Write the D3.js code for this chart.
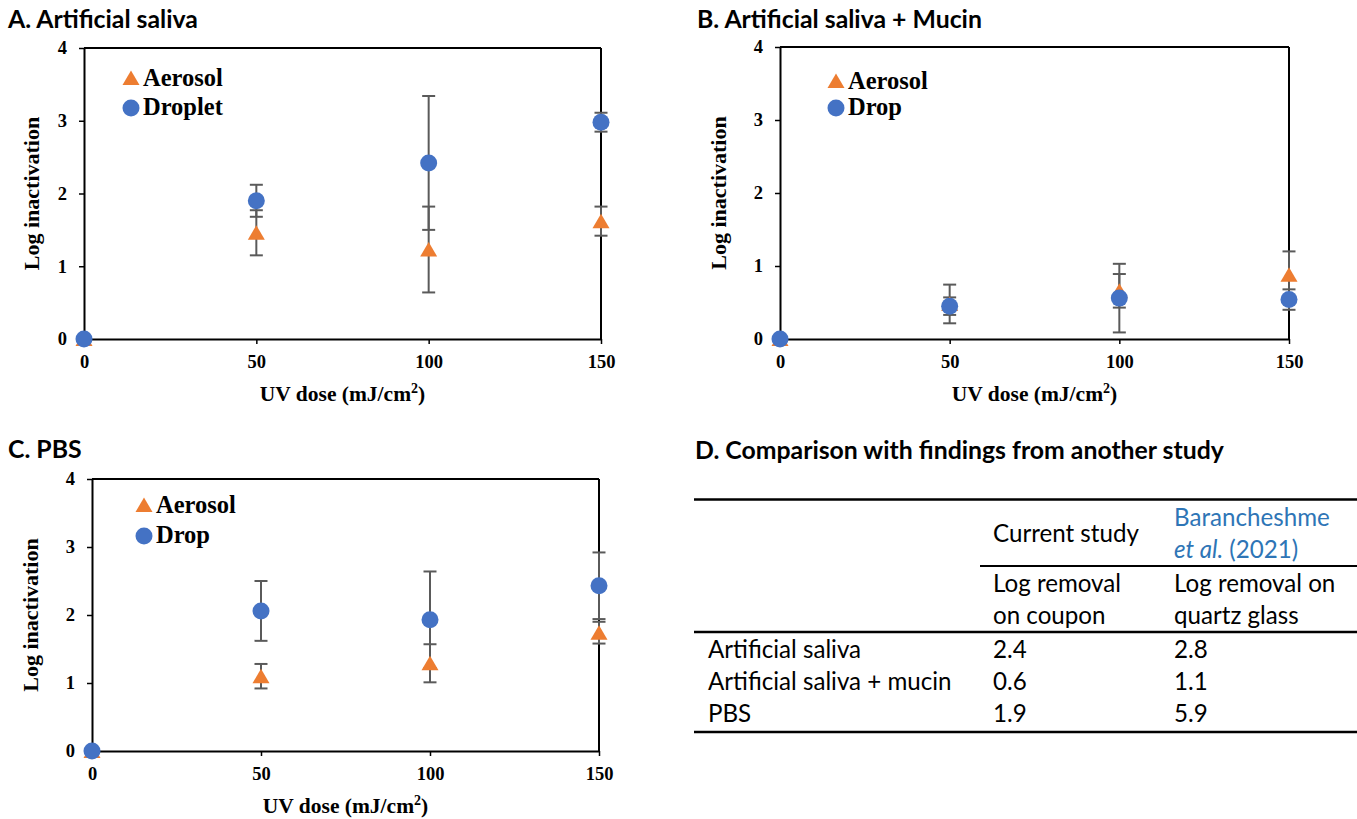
<!DOCTYPE html>
<html>
<head>
<meta charset="utf-8">
<script src="https://cdn.jsdelivr.net/npm/d3@7"></script>
<style>
  html, body { margin: 0; padding: 0; background: #fff; }
  svg { display: block; }
</style>
</head>
<body>
<script>
// ---------------- DATA ----------------
const doses = [0, 50, 100, 150];
const xTicks = [0, 50, 100, 150];
const yTicks = [0, 1, 2, 3, 4];

// Panel A: Artificial saliva
const salivaAerosol    = [0, 1.46, 1.23, 1.62];
const salivaAerosolErr = [0, 0.31, 0.59, 0.20];
const salivaDroplet    = [0, 1.90, 2.42, 2.98];
const salivaDropletErr = [0, 0.22, 0.92, 0.13];

// Panel B: Artificial saliva + Mucin
const mucinAerosol    = [0, 0.48, 0.66, 0.88];
const mucinAerosolErr = [0, 0.265, 0.23, 0.32];
const mucinDrop       = [0, 0.45, 0.56, 0.54];
const mucinDropErr    = [0, 0.12, 0.47, 0.14];

// Panel C: PBS
const pbsAerosol    = [0, 1.10, 1.29, 1.74];
const pbsAerosolErr = [0, 0.18, 0.28, 0.16];
const pbsDrop       = [0, 2.06, 1.93, 2.43];
const pbsDropErr    = [0, 0.44, 0.71, 0.49];

// Panel D: table
const tableRows     = ["Artificial saliva", "Artificial saliva + mucin", "PBS"];
const currentStudy  = [2.4, 0.6, 1.9];
const barancheshme  = [2.8, 1.1, 5.9];

// ---------------- STYLE ----------------
const W = 1357, H = 819;
const ORANGE = "#ED7D31", BLUE = "#4472C4", ERR = "#5a5a5a", CITE = "#2E75B6";
const SERIF = "'Liberation Serif', 'Times New Roman', serif";
const SANS = "Lato, 'Open Sans', sans-serif";

const svg = d3.select("body").append("svg").attr("width", W).attr("height", H);

function fitSize(family, weight, style, sample, target) {
  const t = svg.append("text").attr("font-family", family).attr("font-weight", weight)
    .attr("font-style", style).attr("font-size", 100).text(sample);
  const w = t.node().getComputedTextLength();
  t.remove();
  return 100 * target / w;
}
const titleSize = fitSize(SANS, "bold", "normal", "A. Artificial saliva", 190);
const tableSize = fitSize(SANS, "normal", "normal", "Current study", 146);

// ---------------- PANELS ----------------
const panels = [
  { title: "A. Artificial saliva", titleX: 8, titleY: 28,
    left: 84, right: 601, top: 48, bottom: 339, ylabX: 31,
    legX: 131, legTri: 78, legCirc: 108, dropName: "Droplet",
    aer: salivaAerosol, aerErr: salivaAerosolErr, drop: salivaDroplet, dropErr: salivaDropletErr },
  { title: "B. Artificial saliva + Mucin", titleX: 697, titleY: 28,
    left: 780, right: 1289, top: 47, bottom: 339, ylabX: 718,
    legX: 836, legTri: 81, legCirc: 108, dropName: "Drop",
    aer: mucinAerosol, aerErr: mucinAerosolErr, drop: mucinDrop, dropErr: mucinDropErr },
  { title: "C. PBS", titleX: 8, titleY: 458,
    left: 92, right: 599, top: 479, bottom: 751, ylabX: 30,
    legX: 144, legTri: 505, legCirc: 536, dropName: "Drop",
    aer: pbsAerosol, aerErr: pbsAerosolErr, drop: pbsDrop, dropErr: pbsDropErr }
];

function triPath(cx, cy) {
  return `M${cx},${cy - 7.5}L${cx + 8.5},${cy + 7}L${cx - 8.5},${cy + 7}Z`;
}

panels.forEach(p => {
  const g = svg.append("g");
  const x = d3.scaleLinear().domain([0, 150]).range([p.left, p.right]);
  const y = d3.scaleLinear().domain([0, 4]).range([p.bottom, p.top]);

  g.append("text").attr("x", p.titleX).attr("y", p.titleY)
    .attr("font-family", SANS).attr("font-weight", "bold").attr("font-size", titleSize)
    .attr("fill", "#000").text(p.title);

  // frame (top & right)
  g.append("line").attr("x1", x(0)).attr("x2", x(150)).attr("y1", y(4)).attr("y2", y(4))
    .attr("stroke", "#000").attr("stroke-width", 2);
  g.append("line").attr("x1", x(150)).attr("x2", x(150)).attr("y1", y(4)).attr("y2", y(0))
    .attr("stroke", "#000").attr("stroke-width", 2);

  const fmt = d3.format("d");
  const xa = g.append("g").attr("transform", `translate(0,${p.bottom})`)
    .call(d3.axisBottom(x).tickValues(xTicks).tickFormat(fmt).tickSize(5).tickSizeOuter(0).tickPadding(11));
  const ya = g.append("g").attr("transform", `translate(${p.left},0)`)
    .call(d3.axisLeft(y).tickValues(yTicks).tickFormat(fmt).tickSize(5).tickSizeOuter(0).tickPadding(12));
  [xa, ya].forEach(a => {
    a.select(".domain").attr("stroke", "#000").attr("stroke-width", 2);
    a.selectAll(".tick line").attr("stroke", "#000").attr("stroke-width", 1.5);
    a.selectAll(".tick text").attr("font-family", SERIF).attr("font-weight", "bold")
      .attr("font-size", 18.5).attr("fill", "#000");
  });

  // axis titles
  g.append("text")
    .attr("transform", `translate(${p.ylabX},${(p.top + p.bottom) / 2}) rotate(-90)`)
    .attr("text-anchor", "middle").attr("dominant-baseline", "central")
    .attr("font-family", SERIF).attr("font-weight", "bold").attr("font-size", 22)
    .text("Log inactivation");
  const xt = g.append("text").attr("x", (p.left + p.right) / 2).attr("y", p.bottom + 62)
    .attr("text-anchor", "middle")
    .attr("font-family", SERIF).attr("font-weight", "bold").attr("font-size", 21.5);
  xt.append("tspan").text("UV dose (mJ/cm");
  xt.append("tspan").attr("dy", -8).attr("font-size", 14).text("2");
  xt.append("tspan").attr("dy", 8).text(")");

  // error bars
  const series = [[p.aer, p.aerErr], [p.drop, p.dropErr]];
  series.forEach(([vals, errs]) => {
    doses.forEach((d, i) => {
      if (!errs[i]) return;
      const cx = x(d), y1 = y(vals[i] - errs[i]), y2 = y(vals[i] + errs[i]);
      g.append("line").attr("x1", cx).attr("x2", cx).attr("y1", y1).attr("y2", y2)
        .attr("stroke", ERR).attr("stroke-width", 2);
      [y1, y2].forEach(yy => g.append("line").attr("x1", cx - 6.5).attr("x2", cx + 6.5)
        .attr("y1", yy).attr("y2", yy).attr("stroke", ERR).attr("stroke-width", 2));
    });
  });

  // markers
  g.selectAll(".tri").data(doses).enter().append("path")
    .attr("d", (d, i) => triPath(x(d), y(p.aer[i]))).attr("fill", ORANGE);
  g.selectAll(".circ").data(doses).enter().append("circle")
    .attr("cx", d => x(d)).attr("cy", (d, i) => y(p.drop[i])).attr("r", 8.5).attr("fill", BLUE);

  // legend
  g.append("path").attr("d", triPath(p.legX, p.legTri)).attr("fill", ORANGE);
  g.append("circle").attr("cx", p.legX).attr("cy", p.legCirc).attr("r", 8.5).attr("fill", BLUE);
  g.append("text").attr("x", p.legX + 12).attr("y", p.legTri + 8)
    .attr("font-family", SERIF).attr("font-weight", "bold").attr("font-size", 24.5).text("Aerosol");
  g.append("text").attr("x", p.legX + 12).attr("y", p.legCirc + 7)
    .attr("font-family", SERIF).attr("font-weight", "bold").attr("font-size", 24.5).text(p.dropName);
});

// ---------------- TABLE D ----------------
const tg = svg.append("g");
tg.append("text").attr("x", 695).attr("y", 459)
  .attr("font-family", SANS).attr("font-weight", "bold").attr("font-size", titleSize)
  .text("D. Comparison with findings from another study");

const rule = (x1, yy, w) => tg.append("line").attr("x1", x1).attr("x2", W).attr("y1", yy).attr("y2", yy)
  .attr("stroke", "#000").attr("stroke-width", w);
rule(694, 499.5, 2.5);
rule(980, 566, 2);
rule(694, 632, 2.5);
rule(694, 732, 2.5);

const col0 = 708, col1 = 993, col2 = 1174;
const tt = (xx, yy, s, fill) => tg.append("text").attr("x", xx).attr("y", yy)
  .attr("font-family", SANS).attr("font-size", tableSize).attr("fill", fill || "#000").text(s);

tt(col1, 542, "Current study");
tt(col2, 526, "Barancheshme", CITE);
const ea = tg.append("text").attr("x", col2).attr("y", 558)
  .attr("font-family", SANS).attr("font-size", tableSize).attr("fill", CITE);
ea.append("tspan").attr("font-style", "italic").text("et al.");
ea.append("tspan").text(" (2021)");
tt(col1, 592, "Log removal");
tt(col1, 624, "on coupon");
tt(col2, 592, "Log removal on");
tt(col2, 624, "quartz glass");

const rowBase = [658, 690, 722];
tableRows.forEach((r, i) => {
  tt(col0, rowBase[i], r);
  tt(col1, rowBase[i], currentStudy[i].toFixed(1));
  tt(col2, rowBase[i], barancheshme[i].toFixed(1));
});
</script>
</body>
</html>
